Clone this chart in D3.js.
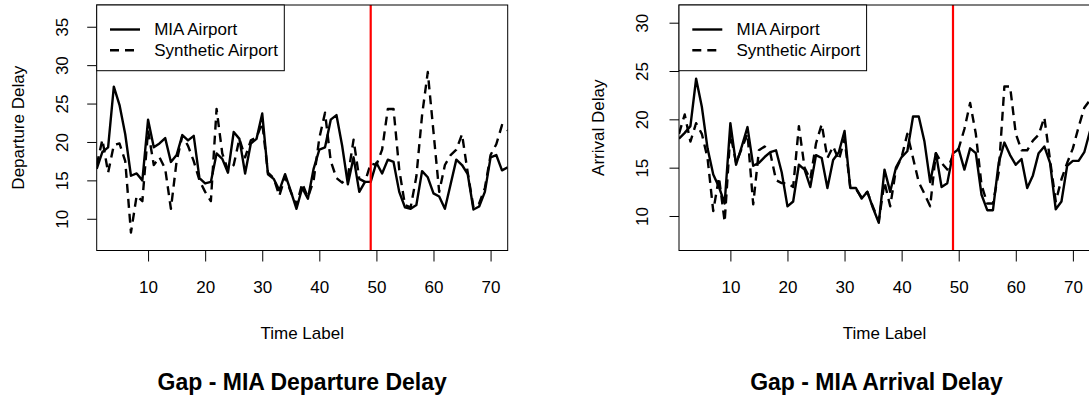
<!DOCTYPE html>
<html>
<head>
<meta charset="utf-8">
<script src="https://cdn.jsdelivr.net/npm/d3@7"></script>
<style>
  body { margin: 0; background: #fff; }
  svg { display: block; }
  text { font-family: "Liberation Sans", Arial, sans-serif; fill: #000; }
</style>
</head>
<body>
<div id="chart"></div>
<script>
// time labels run 1..73, the gap starts at 49
const timeLabels = d3.range(1, 74);
const gapAt = 49;
const xTicks = [10, 20, 30, 40, 50, 60, 70];
const seriesNames = ['MIA Airport', 'Synthetic Airport'];

// departure delay
const depMIA = [16.5, 18.7, 19.3, 27.2, 24.8, 21.0, 15.6, 15.9, 15.0, 22.9,
  19.3, 19.8, 20.5, 17.4, 18.3, 20.9, 20.2, 20.8, 15.3, 14.6,
  14.8, 18.5, 17.8, 16.0, 21.3, 20.4, 15.9, 19.8, 20.4, 23.7,
  15.8, 15.2, 13.7, 15.8, 13.6, 11.3, 14.0, 12.6, 16.5, 19.0,
  19.3, 22.9, 23.5, 19.5, 14.5, 18.0, 13.5, 14.8, 14.8, 17.3,
  15.9, 17.7, 17.4, 13.5, 11.5, 11.3, 11.8, 16.2, 15.4, 13.3,
  12.9, 11.3, 14.5, 17.7, 17.0, 15.8, 11.2, 11.6, 13.5, 18.0,
  18.3, 16.3, 16.7];
const depSyn = [17.0, 20.3, 16.0, 19.6, 19.8, 17.5, 8.2, 13.0, 12.3, 21.5,
  17.0, 18.0, 16.5, 11.3, 17.5, 20.8, 19.5, 17.5, 15.0, 13.5,
  12.3, 24.3, 18.5, 16.3, 17.0, 20.4, 18.0, 20.2, 20.6, 22.5,
  16.0, 15.3, 13.0, 15.5, 13.5, 11.8, 14.6, 12.8, 15.0, 20.5,
  23.8, 17.5, 15.3, 14.7, 15.5, 20.3, 15.2, 14.8, 17.2, 17.0,
  19.0, 24.3, 24.3, 16.4, 11.8, 11.5, 15.5, 23.5, 29.1, 21.3,
  13.5, 17.0, 18.3, 19.0, 21.0, 16.0, 11.5, 12.0, 14.0, 18.3,
  19.7, 22.2, 21.5];
const depTicks = [10, 15, 20, 25, 30, 35];
const depLimits = [5.87, 37.83];

// arrival delay
const arrMIA = [18.0, 18.6, 19.3, 24.2, 21.3, 17.0, 14.3, 13.0, 11.3, 19.6,
  15.3, 17.2, 19.2, 15.2, 15.5, 16.1, 16.6, 16.8, 14.5, 11.0,
  11.5, 15.3, 14.8, 13.0, 16.3, 16.0, 12.9, 15.8, 16.6, 18.8,
  12.9, 12.9, 11.8, 12.5, 10.8, 9.3, 14.8, 12.5, 15.0, 16.1,
  16.7, 20.3, 20.3, 17.7, 13.5, 16.5, 13.0, 13.4, 16.5, 16.9,
  14.8, 17.0, 16.5, 12.2, 10.6, 10.6, 15.5, 17.6, 16.3, 15.3,
  15.9, 12.9, 14.2, 16.5, 17.2, 15.5, 10.7, 11.5, 15.2, 15.7,
  15.7, 16.6, 18.8];
const arrSyn = [18.5, 20.5, 17.7, 19.6, 18.5, 16.0, 10.5, 14.0, 9.4, 18.5,
  15.5, 17.0, 18.5, 11.2, 16.8, 17.2, 16.5, 13.7, 13.4, 13.4,
  13.0, 19.3, 15.0, 13.8, 17.5, 19.5, 16.0, 17.2, 15.8, 18.0,
  13.0, 12.8, 11.9, 12.5, 10.9, 9.5, 13.5, 11.0, 14.8, 16.1,
  18.5, 16.0, 13.5, 12.3, 11.0, 16.5, 15.5, 14.8, 16.3, 17.0,
  19.0, 21.7, 18.5, 13.2, 11.3, 11.3, 14.5, 23.4, 23.4, 18.5,
  16.8, 16.8, 17.8, 18.4, 20.2, 15.8, 11.5, 13.8, 15.5, 17.0,
  19.2, 21.2, 22.0];
const arrTicks = [10, 15, 20, 25, 30];
const arrLimits = [6.43, 31.83];

const width = 1089, height = 399;
const plotTop = 5, plotBottom = 250.5;
const lineW = 2.4;

const svg = d3.select('#chart').append('svg')
  .attr('width', width)
  .attr('height', height);

const panels = [
  { left: 96.7, right: 507.7, mia: depMIA, syn: depSyn, ticks: depTicks, limits: depLimits,
    yLabel: 'Departure Delay', title: 'Gap - MIA Departure Delay', labelX: 18.3, tickLabelX: 62.5, titleShift: 0 },
  { left: 679, right: 1090, mia: arrMIA, syn: arrSyn, ticks: arrTicks, limits: arrLimits,
    yLabel: 'Arrival Delay', title: 'Gap - MIA Arrival Delay', labelX: 598, tickLabelX: 642.5, titleShift: -8 }
];

panels.forEach((p, k) => {
  const x = d3.scaleLinear().domain([1, 73]).range([p.left, p.right]);
  const y = d3.scaleLinear().domain(p.limits).range([plotBottom, plotTop]);
  const g = svg.append('g');

  g.append('clipPath').attr('id', 'clip' + k)
    .append('rect')
    .attr('x', p.left).attr('y', plotTop)
    .attr('width', p.right - p.left).attr('height', plotBottom - plotTop);

  // x axis
  const xAxis = g.append('g')
    .attr('transform', `translate(0,${plotBottom})`)
    .call(d3.axisBottom(x).tickValues(xTicks).tickSize(11).tickSizeOuter(0).tickPadding(0));
  xAxis.select('.domain').remove();
  xAxis.selectAll('line').attr('stroke', '#000');
  xAxis.selectAll('text')
    .attr('y', 36.5).attr('dy', '0.35em')
    .style('font-size', '17px')
    .style('font-family', '"Liberation Sans", Arial, sans-serif');

  // y axis
  const yAxis = g.append('g')
    .attr('transform', `translate(${p.left},0)`)
    .call(d3.axisLeft(y).tickValues(p.ticks).tickSize(9.5).tickSizeOuter(0));
  yAxis.select('.domain').remove();
  yAxis.selectAll('line').attr('stroke', '#000');
  yAxis.selectAll('text')
    .attr('x', null)
    .attr('text-anchor', 'middle')
    .attr('transform', `translate(${p.tickLabelX - p.left},0) rotate(-90)`)
    .attr('dy', '0.35em')
    .style('font-size', '17px')
    .style('font-family', '"Liberation Sans", Arial, sans-serif');

  // series lines
  const line = d3.line()
    .x((d, i) => x(timeLabels[i]))
    .y(d => y(d));

  const plot = g.append('g').attr('clip-path', `url(#clip${k})`);
  plot.append('path')
    .datum(p.syn)
    .attr('d', line)
    .attr('fill', 'none')
    .attr('stroke', '#000')
    .attr('stroke-width', lineW)
    .attr('stroke-linejoin', 'round')
    .attr('stroke-dasharray', '9,6');
  plot.append('path')
    .datum(p.mia)
    .attr('d', line)
    .attr('fill', 'none')
    .attr('stroke', '#000')
    .attr('stroke-width', lineW)
    .attr('stroke-linejoin', 'round');

  // gap marker
  g.append('line')
    .attr('x1', x(gapAt)).attr('x2', x(gapAt))
    .attr('y1', plotTop).attr('y2', plotBottom)
    .attr('stroke', '#ff0000')
    .attr('stroke-width', 2.2);

  // box
  g.append('rect')
    .attr('x', p.left).attr('y', plotTop)
    .attr('width', p.right - p.left).attr('height', plotBottom - plotTop)
    .attr('fill', 'none').attr('stroke', '#000').attr('stroke-width', 1);

  // legend
  const lg = g.append('g').attr('transform', `translate(${p.left},${plotTop})`);
  lg.append('rect')
    .attr('width', 187.6).attr('height', 65.7)
    .attr('fill', '#fff').attr('stroke', '#000').attr('stroke-width', 1);
  seriesNames.forEach((name, j) => {
    const ly = 24.5 + j * 20.8;
    lg.append('line')
      .attr('x1', 13.3).attr('x2', 43.3)
      .attr('y1', ly).attr('y2', ly)
      .attr('stroke', '#000').attr('stroke-width', lineW)
      .attr('stroke-dasharray', j === 1 ? '9,6' : null);
    lg.append('text')
      .attr('x', 57.5).attr('y', ly).attr('dy', '0.35em')
      .style('font-size', '17px')
      .text(name);
  });

  // labels
  const cx = (p.left + p.right) / 2;
  g.append('text')
    .attr('text-anchor', 'middle')
    .attr('transform', `translate(${p.labelX},${(plotTop + plotBottom) / 2}) rotate(-90)`)
    .attr('dy', '0.35em')
    .style('font-size', '17px')
    .text(p.yLabel);
  g.append('text')
    .attr('x', cx).attr('y', 333).attr('dy', '0.35em')
    .attr('text-anchor', 'middle')
    .style('font-size', '17px')
    .text('Time Label');
  g.append('text')
    .attr('x', cx + p.titleShift).attr('y', 382).attr('dy', '0.35em')
    .attr('text-anchor', 'middle')
    .style('font-size', '23px')
    .style('font-weight', 'bold')
    .text(p.title);
});
</script>
</body>
</html>
